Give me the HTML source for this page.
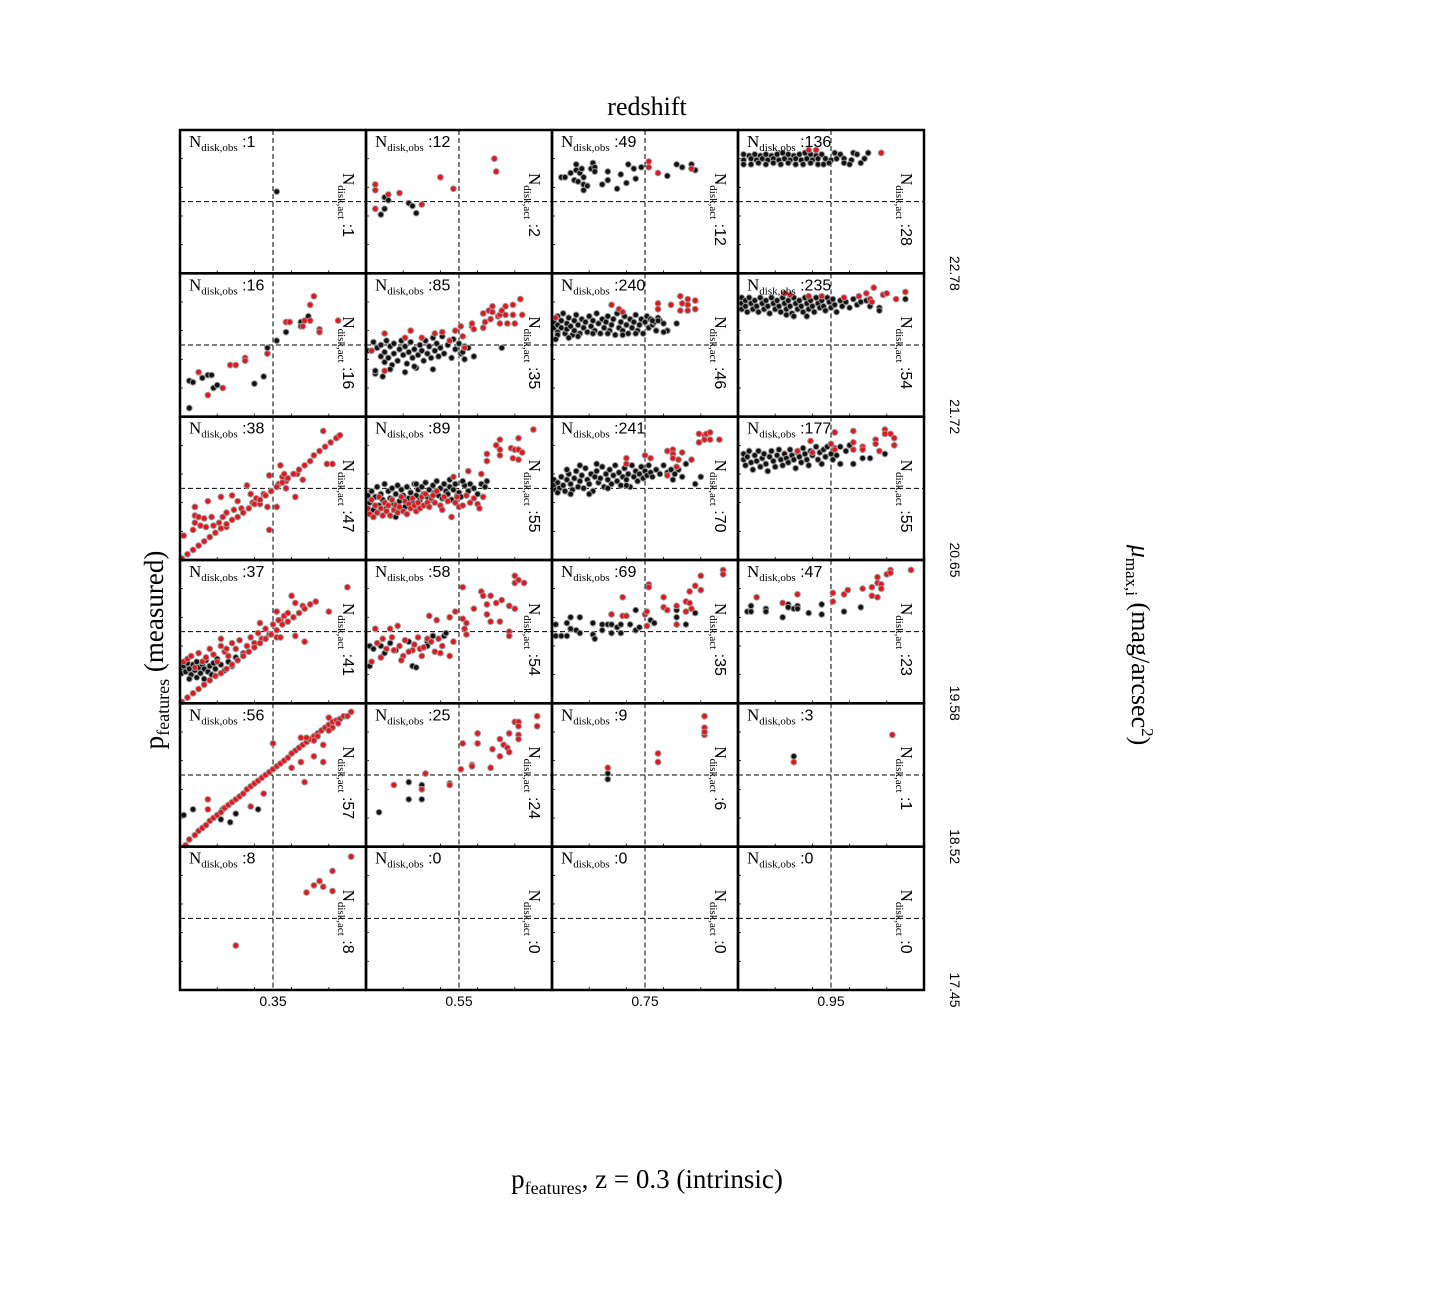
<!DOCTYPE html>
<html><head><meta charset="utf-8"><style>
html,body{margin:0;padding:0;background:#fff;}
svg{display:block;}
.serif{font-family:"Liberation Serif","DejaVu Serif",serif;}
.sans{font-family:"Liberation Sans","DejaVu Sans",sans-serif;}
</style></head><body>
<svg id="chart" width="1440" height="1296" viewBox="0 0 1440 1296" xmlns="http://www.w3.org/2000/svg">
<g id="panels"></g>
<text class="serif" x="647" y="115" font-size="26" text-anchor="middle">redshift</text>
<text class="serif" x="647" y="1188" font-size="27" text-anchor="middle">p<tspan font-size="18" dy="6">features</tspan><tspan dy="-6">, z = 0.3 (intrinsic)</tspan></text>
<text class="serif" transform="translate(163,650) rotate(-90)" font-size="27" text-anchor="middle">p<tspan font-size="18" dy="6">features</tspan><tspan dy="-6"> (measured)</tspan></text>
<text class="serif" transform="translate(1132,645) rotate(90)" font-size="26" text-anchor="middle"><tspan font-style="italic">μ</tspan><tspan font-size="17" dy="6">max,i</tspan><tspan dy="-6"> (mag/arcsec</tspan><tspan font-size="17" dy="-10">2</tspan><tspan dy="10">)</tspan></text>
</svg>
<script>
const colTicks = ["0.35","0.55","0.75","0.95"];
const rowTicks = ["22.78","21.72","20.65","19.58","18.52","17.45"];
const nObs = [[1,12,49,136],[16,85,240,235],[38,89,241,177],[37,58,69,47],[56,25,9,3],[8,0,0,0]];
const nAct = [[1,2,12,28],[16,35,46,54],[47,55,70,55],[41,54,35,23],[57,24,6,1],[8,0,0,0]];
// point values in percent (x,y) for each panel, black = not disk-active, red = active
const blackPts = [
["52,57",
 "8,41 10,45 10,53 12,51 23,49 25,47 27,42",
 "5,67 7,67 10,70 13,76 13,72 12,65 14,64 15,70 16,73 17,67 17,58 17,62 19,61 21,73 22,77 23,74 23,71 27,62 30,71 30,65 35,59 37,69 40,63 41,76 44,73 45,66 48,74 62,68 67,76 70,74 75,76 77,72",
 "3,83 6,82 9,83 12,82 15,83 18,82 21,83 24,84 27,83 30,82 33,83 36,84 39,83 42,82 45,83 52,84 55,83 62,84 64,83 70,84 3,79 7,80 10,79 13,80 16,79 19,80 22,79 25,80 28,79 31,80 34,79 37,80 40,79 43,80 47,80 50,79 53,80 57,80 61,79 68,80 3,76 7,76 11,77 15,76 19,77 23,76 27,77 31,76 35,76 39,77 43,76 46,76 49,77 57,77 60,76 66,77"],
["5,6 5,25 7,24 12,27 15,29 17,29 18,20 20,22 40,23 45,28 47,48 52,53 57,59 65,66 65,63 69,70",
 "1,46 4,52 6,48 8,42 8,50 10,38 10,45 11,53 12,41 13,49 14,36 15,44 15,51 17,39 18,47 19,53 20,43 21,49 22,37 23,45 24,52 25,41 26,47 27,34 28,43 29,50 30,46 31,39 32,53 33,44 34,49 35,41 36,55 37,46 38,51 39,42 40,48 41,56 42,44 44,50 46,41 47,54 48,47 50,51 51,44 53,49 5,30 5,32 9,28 13,33 21,31 26,35 36,33 52,45 53,40 55,48 58,42 73,48",
 "1,66 1,62 3,70 3,64 3,59 5,67 5,62 6,72 7,58 8,65 8,61 9,69 10,63 11,57 12,67 12,60 13,71 14,64 15,58 16,68 17,62 18,66 19,59 20,70 21,63 22,67 23,60 24,72 25,65 26,58 27,68 28,62 29,66 30,70 31,60 32,64 33,68 34,57 35,72 36,62 37,66 38,60 39,70 40,64 41,58 42,68 43,62 44,66 45,71 46,60 47,64 48,68 49,58 50,66 51,70 52,62 53,68 54,64 55,66 56,60 58,67 60,65 62,60 57,69 45,58 38,57 30,58 22,58 14,56 9,55 3,57 2,54 62,60 60,59 67,65 57,67 54,67",
 "2,83 2,79 2,75 4,81 4,77 5,73 6,83 7,79 8,75 9,81 10,77 11,73 12,83 13,79 14,75 15,81 16,77 17,72 18,83 19,79 20,75 21,81 22,77 23,73 24,83 25,79 26,75 27,81 28,77 29,72 30,83 31,79 32,75 33,81 34,77 35,73 36,83 37,79 38,75 39,81 40,77 41,73 42,83 43,79 44,76 45,81 46,77 47,74 48,83 49,80 50,76 51,82 52,78 53,73 55,81 56,77 58,80 60,76 62,82 64,78 66,80 69,81 71,77 76,76 76,74 90,82 30,70 26,71 37,70"],
["",
 "1,45 2,40 3,48 4,35 5,44 6,51 7,38 8,46 9,42 10,53 11,36 12,48 13,43 14,50 15,39 16,46 17,52 18,41 19,49 20,45 21,37 22,51 23,43 24,47 25,40 26,53 27,45 28,49 29,42 30,51 31,46 32,54 33,44 34,49 35,42 36,52 37,47 38,55 39,45 40,50 41,43 42,53 43,48 44,46 45,51 46,42 47,49 48,53 49,45 50,47 51,44 53,52 55,48 56,53 58,50 60,46 62,53 64,51 65,55 16,30 27,53 45,56 52,55",
 "1,52 1,56 2,49 3,54 4,50 5,58 6,52 7,48 8,56 9,60 10,53 11,49 12,57 13,62 14,51 15,55 16,59 17,50 18,64 19,56 20,53 21,60 22,48 23,58 24,62 25,54 26,57 27,65 28,51 29,60 30,56 31,63 32,53 33,59 34,66 35,55 36,61 37,52 38,58 39,64 40,56 41,60 42,51 43,66 44,58 45,62 46,55 47,60 48,65 49,57 50,62 51,59 52,66 53,61 54,58 56,63 58,60 60,66 62,61 64,63 66,60 68,63 70,58 65,56 77,53 80,58 72,67 3,47 10,46 20,46 30,50 40,52 24,67 15,66 8,63",
 "3,70 3,74 4,66 5,72 6,76 7,68 8,63 9,73 10,69 11,76 12,65 13,71 14,74 15,67 16,62 17,72 18,76 19,69 20,65 21,73 22,77 23,70 24,66 25,74 26,71 27,68 28,77 29,73 30,70 31,64 32,75 33,72 34,68 35,78 36,74 37,70 38,66 39,76 40,73 42,79 43,70 44,75 45,67 46,77 47,72 48,79 50,74 51,70 52,78 53,73 55,79 55,67 62,67 67,71 71,71 79,74 58,76 60,80"],
["1,24 1,21 2,26 3,22 4,28 5,24 6,20 7,27 8,23 9,29 10,25 11,21 12,27 13,24 14,30 15,22 16,26 17,20 18,28 19,24 20,31 22,27 24,23 26,29 28,26 30,32 5,17 9,18 13,17",
 "2,40 2,26 8,40 10,35 13,42 16,37 23,43 25,26 27,25 33,43 33,40 36,47 42,47 43,49 4,38",
 "2,55 2,47 5,47 8,47 8,56 10,60 10,52 13,51 15,60 15,49 22,56 22,48 23,45 27,55 27,51 30,55 32,55 32,49 35,53 37,55 37,49 42,55 45,65 45,51 47,53 53,58 55,56 67,60 67,65 72,55 77,63",
 "5,64 7,68 7,64 15,66 15,64 24,60 27,69 27,67 30,66 32,68 32,66 38,63 45,69 45,62 57,64 66,67"],
["2,22 7,26 23,26 22,19 27,17 30,23 42,26",
 "7,24 23,45 23,33 30,33 30,43 45,44",
 "30,51 30,47",
 "30,63"],
["","","",""]
];
const redPts = [
["",
 "5,62 5,58 5,45 12,55 18,56 30,48 40,67 47,59 69,80 70,71",
 "52,78 52,74 57,70 75,73",
 "38,86 42,86 77,84"],
["10,31 15,15 23,20 27,36 30,36 35,41 35,39 47,44 57,66 59,66 67,67 66,63 70,78 72,84 70,67 75,61 75,59 85,67",
 "3,46 10,58 10,32 21,55 24,60 30,55 37,58 41,59 45,53 48,60 51,63 52,56 53,48 57,63 57,65 58,61 63,62 64,66 63,72 66,74 68,77 68,73 71,70 72,71 73,74 72,65 75,77 75,71 76,65 79,71 79,78 80,65 67,68 83,82 84,71",
 "2,69 32,78 36,75 38,73 57,79 57,75 64,78 69,84 70,79 73,82 73,78 69,74 73,74 77,81 77,75",
 "25,86 28,85 38,84 45,84 57,83 65,84 69,86 71,82 72,80 73,90 78,85 80,86 85,82 90,87"],
["2,17 7,21 8,26 8,31 8,37 10,30 11,24 13,29 14,23 15,41 17,30 18,24 21,26 22,44 23,30 25,33 25,23 28,45 29,35 31,41 33,36 36,52 38,46 39,40 41,43 43,39 45,46 47,37 48,59 48,21 52,37 53,53 55,58 56,60 57,50 62,44 63,60 66,56 77,90 79,67 82,67 85,86 57,55 54,66 1,1 4,4 7,7 10,10 13,13 16,16 19,19 22,22 25,25 28,28 31,30 34,33 37,36 40,39 43,42 46,45 49,48 52,51 55,54 58,57 61,60 64,63 67,66 70,69 72,73 75,76 78,79 81,82 84,85 86,87",
 "1,36 2,32 3,42 4,30 5,38 6,33 7,44 8,36 9,31 10,40 11,34 12,38 13,31 14,42 15,35 16,38 17,33 18,37 19,44 20,34 21,41 22,32 23,39 24,36 25,43 26,38 27,34 28,40 29,36 30,44 31,38 32,46 33,40 34,37 35,43 36,45 37,40 38,48 40,38 41,35 42,44 44,41 46,30 47,58 48,40 49,44 50,37 52,38 54,45 55,62 56,40 58,43 60,39 62,60 65,69 65,74 72,84 70,80 72,77 72,73 78,78 80,77 82,85 82,77 84,75 79,71 82,70 90,91 63,44 61,36",
 "79,88 82,87 83,88 85,89 79,82 82,84 85,84 90,84 62,76 65,77 65,74 65,71 68,70 70,75 75,70 67,65 50,73 53,71 40,71 40,67 62,59",
 "39,83 52,89 50,81 52,77 62,90 62,82 62,77 67,79 67,77 74,84 74,81 76,76 79,91 79,88 82,88 84,85 84,80 32,76 40,75"],
["2,29 4,31 6,33 8,25 10,35 12,29 14,32 16,38 18,34 20,29 22,40 24,36 26,33 28,42 30,38 32,44 34,35 36,40 38,46 40,42 42,49 44,45 46,52 48,48 50,55 52,46 54,58 56,61 58,63 43,56 54,46 52,64 53,58 60,75 62,70 66,68 62,47 67,43 80,64 90,81 22,45 25,38 1,1 4,4 7,7 10,10 13,13 16,16 19,19 22,21 25,24 28,27 31,30 34,33 37,36 40,39 43,42 46,45 49,48 52,51 55,55 58,57 61,60 64,63 67,66 70,69 73,71",
 "3,29 5,52 13,52 17,54 15,37 20,33 25,37 29,38 33,45 34,61 38,58 40,35 41,40 45,60 45,33 48,64 47,43 52,81 52,59 53,52 54,56 54,48 58,66 62,78 63,75 65,69 65,62 67,75 67,57 70,70 72,57 73,72 77,68 80,89 80,84 80,66 82,86 85,84 77,50 77,47 6,42 9,45 11,38 14,46 18,40 21,44 23,36 26,41 28,46 31,39 35,43 37,36 39,45 30,33 19,30 8,32",
 "32,62 38,74 38,61 40,61 50,62 51,64 52,83 52,81 51,54 60,74 60,67 62,65 67,68 67,55 72,71 72,64 74,70 75,66 74,78 77,82 80,89 80,79 92,93 92,90",
 "10,74 24,70 32,76 51,77 51,71 57,76 59,79 67,80 72,81 72,75 75,74 75,88 75,84 77,83 77,80 80,90 82,93 82,91 93,93"],
["3,1 5,5 8,8 10,11 12,13 14,15 16,18 18,20 20,22 22,24 24,27 26,29 28,31 30,33 32,35 34,37 36,40 38,42 40,44 42,46 44,48 46,50 48,52 50,54 52,56 54,58 56,60 58,62 60,65 62,67 64,69 66,71 68,73 70,75 72,77 74,79 76,81 78,83 80,85 82,87 84,88 86,89 88,91 92,94 15,33 15,26 38,28 45,37 50,72 60,65 65,76 68,76 67,45 72,63 77,59 77,71 72,74 74,77 80,90 85,86 90,91 82,83 80,81 65,59 60,55",
 "15,43 30,40 32,51 45,43 51,54 57,57 57,56 52,72 60,79 60,72 67,55 68,68 72,63 72,75 74,71 76,69 77,79 77,66 80,87 82,87 82,84 82,78 82,75 92,91 92,84",
 "30,55 57,65 57,59 82,91 82,83 82,78 82,80",
 "30,59 83,78"],
["30,31 68,68 72,73 75,76 77,72 82,83 82,69 92,93","","",""]
];

const NS = "http://www.w3.org/2000/svg";
const g = document.getElementById('panels');
const X0 = 180, Y0 = 130, PW = 186, PH = 143.33;
function sx(c, v){ return X0 + c*PW + v/100*PW; }
function sy(r, v){ return Y0 + r*PH + (1 - v/100)*PH; }
function mk(tag, attrs){ const e = document.createElementNS(NS, tag); for (const k in attrs) e.setAttribute(k, attrs[k]); return e; }
function parsePts(s){ return s.trim() ? s.trim().split(/\s+/).map(p => p.split(',').map(Number)) : []; }

for (let r = 0; r < 6; r++) {
  for (let c = 0; c < 4; c++) {
    const pg = mk('g', {});
    
    
    g.appendChild(pg);
    const px = X0 + c*PW, py = Y0 + r*PH;
    for (const t of [20,40,60,80]) {
      const lt = mk('line', {x1: px, x2: px+3, y1: sy(r,t), y2: sy(r,t), stroke:'#000', 'stroke-width':0.8});
      
      
      pg.appendChild(lt);
      const bt = mk('line', {x1: sx(c,t), x2: sx(c,t), y1: py+PH, y2: py+PH-3, stroke:'#000', 'stroke-width':0.8});
      
      
      pg.appendChild(bt);
    }
    const vl = mk('line', {x1: sx(c,50), x2: sx(c,50), y1: py, y2: py+PH, stroke:'#000', 'stroke-width':1, 'stroke-dasharray':'5,3'});
    
    
    pg.appendChild(vl);
    const hl = mk('line', {x1: px, x2: px+PW, y1: sy(r,50), y2: sy(r,50), stroke:'#000', 'stroke-width':1, 'stroke-dasharray':'5,3'});
    
    
    pg.appendChild(hl);
    const series = [[blackPts[r][c], '#111'], [redPts[r][c], '#e8141c']];
    for (const [s, col] of series) {
      for (const [vx, vy] of parsePts(s)) {
        const ci = mk('circle', {cx: sx(c,vx), cy: sy(r,vy), r: 2.9, fill: col, stroke:'#9a9a9a', 'stroke-width':1});
        
        
        pg.appendChild(ci);
      }
    }
    const t1 = mk('text', {x: px+9, y: py+17, 'font-size': 17, class:'serif'});
    
    
    t1.innerHTML = 'N<tspan font-size="11" dy="4">disk,obs</tspan><tspan class="sans" font-size="16" dy="-4"> :' + nObs[r][c] + '</tspan>';
    pg.appendChild(t1);
    const t2 = mk('text', {transform: 'translate(' + (px+163) + ',' + (py+43) + ') rotate(90)', 'font-size': 17, class:'serif'});
    
    
    t2.innerHTML = 'N<tspan font-size="11" dy="5">disk,act</tspan><tspan class="sans" font-size="16" dy="-5"> :' + nAct[r][c] + '</tspan>';
    pg.appendChild(t2);
    const fr = mk('rect', {x: px, y: py, width: PW, height: PH, fill:'none', stroke:'#000', 'stroke-width':2.5});
    
    
    pg.appendChild(fr);
  }
}
for (let c = 0; c < 4; c++) {
  const t = mk('text', {x: sx(c,50), y: 1006, 'font-size': 14, 'text-anchor':'middle', class:'sans'});
  
  
  t.textContent = colTicks[c];
  g.appendChild(t);
}
for (let r = 0; r < 6; r++) {
  const t = mk('text', {transform: 'translate(950,' + (Y0 + (r+1)*PH) + ') rotate(90)', 'font-size': 14, 'text-anchor':'middle', class:'sans'});
  
  
  t.textContent = rowTicks[r];
  g.appendChild(t);
}
</script>
</body></html>
